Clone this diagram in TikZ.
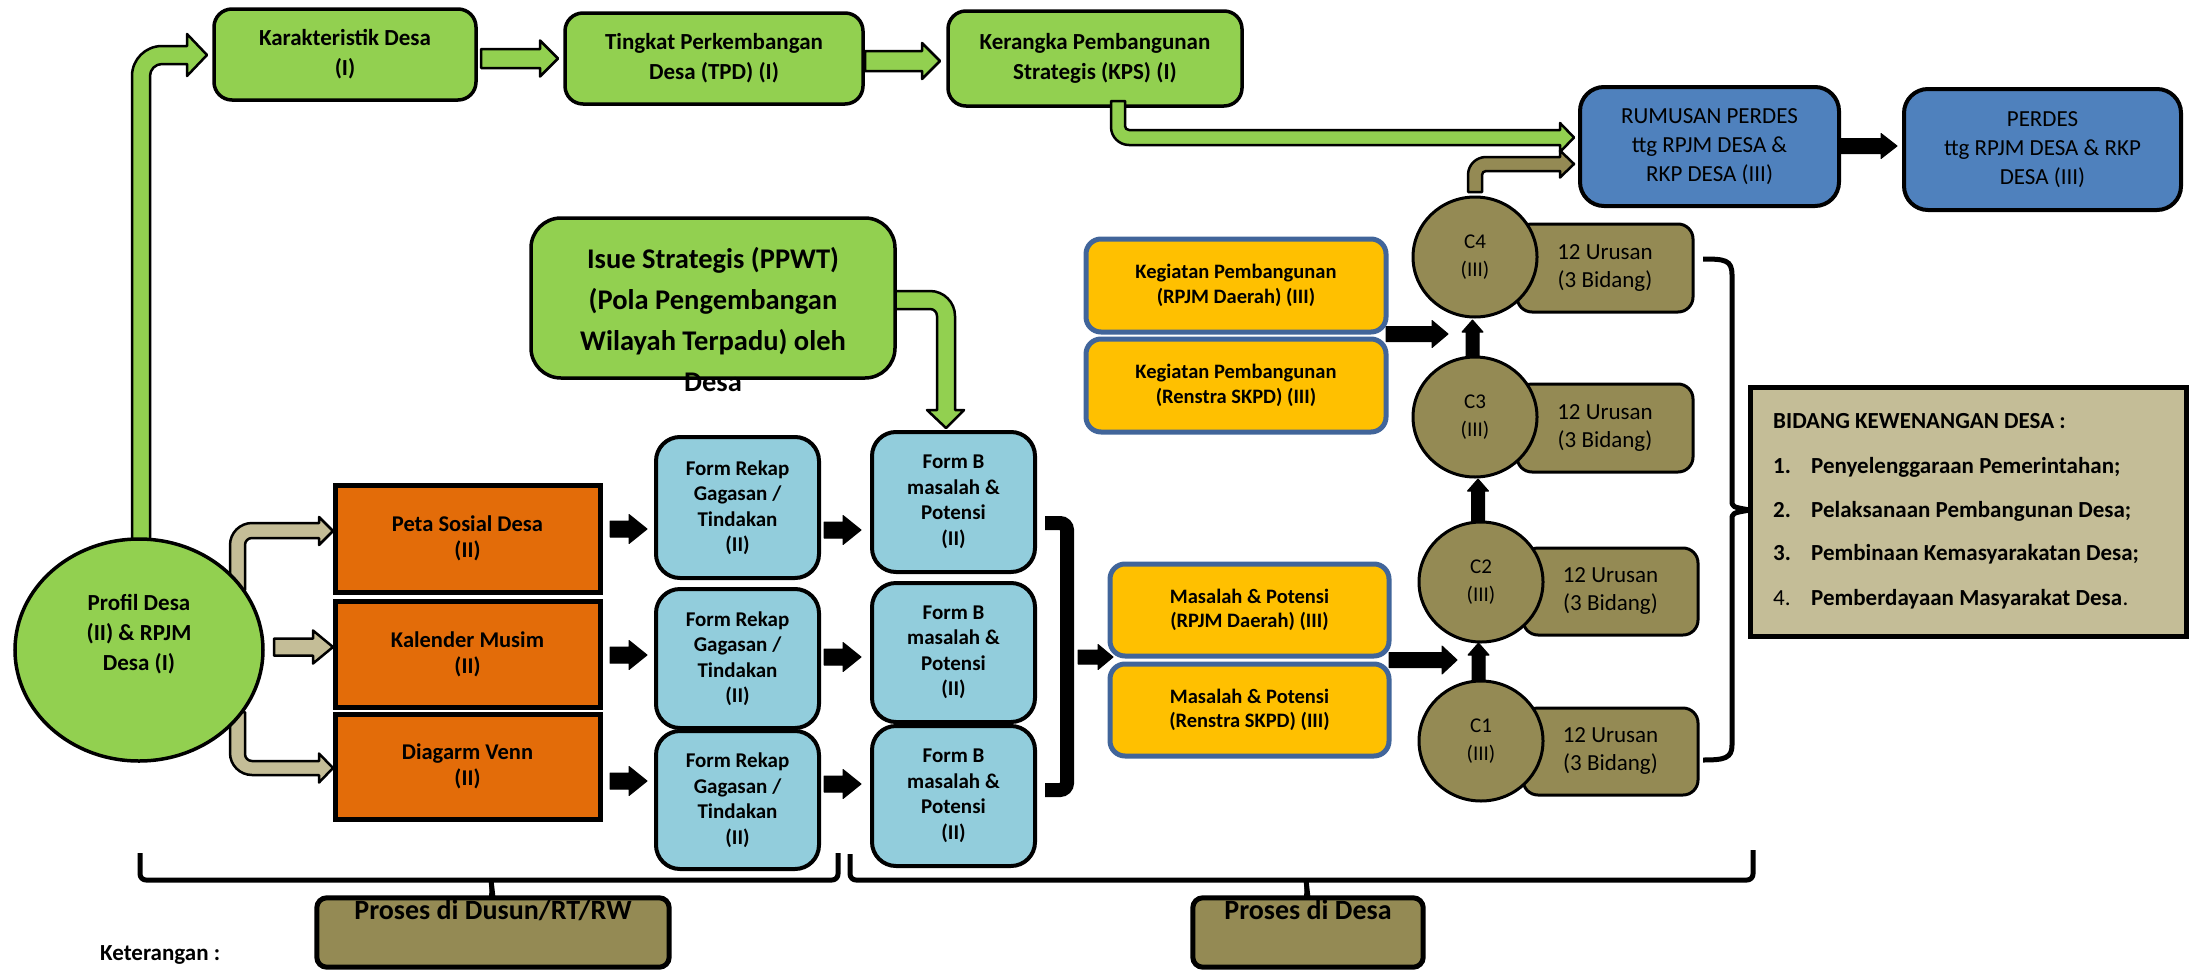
\documentclass[tikz,border=0pt]{standalone}
\usepackage{fontspec}
\setmainfont{Carlito}
\usetikzlibrary{shapes.geometric}
\definecolor{grn}{HTML}{92D050}
\definecolor{org}{HTML}{E36C09}
\definecolor{lblue}{HTML}{92CDDC}
\definecolor{gold}{HTML}{FFC000}
\definecolor{bblue}{HTML}{41659A}
\definecolor{blu}{HTML}{4F81BD}
\definecolor{olv}{HTML}{948A54}
\definecolor{tanc}{HTML}{C4BD97}
\newcommand\hblk[7]{%
 \path[#1] (#2,{#4-#5}) -- ({#3-#7},{#4-#5}) -- ({#3-#7},{#4-#6}) -- (#3,#4) -- ({#3-#7},{#4+#6}) -- ({#3-#7},{#4+#5}) -- (#2,{#4+#5}) -- cycle;}
\newcommand\vblk[7]{%
 \path[#1] ({#2-#5},#3) -- ({#2-#5},{#4+#7}) -- ({#2-#6},{#4+#7}) -- (#2,#4) -- ({#2+#6},{#4+#7}) -- ({#2+#5},{#4+#7}) -- ({#2+#5},#3) -- cycle;}
\begin{document}
\begin{tikzpicture}[x=1pt,y=-1pt,
  box/.style={draw=black, align=center, inner sep=0pt},
  gbox/.style={box, fill=grn, line width=3.5pt, rounded corners=18pt, font=\bfseries\fontsize{23}{30}\selectfont},
  bbox/.style={box, fill=blu, line width=4pt, rounded corners=24pt, font=\fontsize{23}{29}\selectfont},
  obox/.style={box, fill=org, line width=5pt, font=\bfseries\fontsize{22.5}{26}\selectfont},
  fbox/.style={box, fill=lblue, line width=4pt, rounded corners=24pt, font=\bfseries\fontsize{21}{25.5}\selectfont},
  ybox/.style={box, fill=gold, draw=bblue, line width=5pt, rounded corners=15pt, font=\bfseries\fontsize{20.5}{24.5}\selectfont},
  ubox/.style={box, fill=olv, line width=3pt, rounded corners=15pt, font=\fontsize{23}{28}\selectfont},
  cnode/.style={ellipse, draw=black, fill=olv, line width=3pt, inner sep=0pt, minimum width=124pt, minimum height=120pt, align=center, font=\fontsize{21}{28}\selectfont},
  lbl/.style={inner sep=0pt, align=center},
  blk/.style={fill=black, draw=black, line width=1pt, line join=round},
  garr/.style={fill=grn, draw=black, line width=2.5pt, line join=round},
  tarr/.style={fill=tanc, draw=black, line width=2.5pt, line join=round},
  oarr/.style={fill=olv, draw=black, line width=2.5pt, line join=round},
  brk/.style={draw=black, line width=5pt, line join=round}
]
\useasboundingbox (0,0) rectangle (2192,969);

% ---- bent arrows behind nodes
\path[garr] (132,545) -- (132,76) .. controls (132,59.4) and (145.4,46) .. (162,46) -- (187,46) -- (187,34) -- (207,55) -- (187,76) -- (187,64) -- (162,64) .. controls (155.4,64) and (150,69.4) .. (150,76) -- (150,545) -- cycle;
\path[tarr] (230,590) -- (230,545) .. controls (230,532.9) and (239.9,523) .. (252,523) -- (319,523) -- (319,517) -- (333,531) -- (319,545) -- (319,538) -- (252,538) .. controls (248.1,538) and (245,541.1) .. (245,545) -- (245,590) -- cycle;
\path[tarr] (230,712) -- (230,753) .. controls (230,765.1) and (239.9,775) .. (252,775) -- (319,775) -- (319,782.5) -- (333,768) -- (319,753.5) -- (319,761) -- (252,761) .. controls (248.1,761) and (245,757.9) .. (245,754) -- (245,712) -- cycle;
\hblk{tarr}{274}{333}{647}{8.5}{16.5}{20}
\path[garr] (880,291) -- (930,291) .. controls (943.8,291) and (955,302.2) .. (955,316) -- (955,410) -- (964,410) -- (946,428) -- (927,410) -- (937,410) -- (937,316) .. controls (937,312.1) and (933.9,309) .. (930,309) -- (880,309) -- cycle;

% ---- Profil
\node[ellipse, draw=black, fill=grn, line width=3.5pt, minimum width=248pt, minimum height=222pt, inner sep=0pt] (profil) at (139,650) {};
\node[lbl, font=\bfseries\fontsize{23}{30}\selectfont] (profilt) at (139,634) {Profil Desa\\(II) \& RPJM\\Desa (I)};

% ---- top green row
\node[gbox, minimum width=262pt, minimum height=91pt] (kar) at (345,54.5) {Karakteristik Desa\\(I)};
\node[gbox, minimum width=298pt, minimum height=91pt] (tpd) at (714,58.5) {Tingkat Perkembangan\\Desa (TPD) (I)};
\node[gbox, minimum width=294pt, minimum height=95pt] (kps) at (1095,58.5) {Kerangka Pembangunan\\Strategis (KPS) (I)};
\hblk{garr}{481}{558}{58.5}{9.5}{18}{18}
\hblk{garr}{865}{940}{61}{10}{18}{18}
\path[garr] (1111,101) -- (1111,127) .. controls (1111,136.9) and (1119.1,145) .. (1129,145) -- (1560,145) -- (1560,152) -- (1574,137.5) -- (1560,123) -- (1560,130) -- (1129,130) .. controls (1126.8,130) and (1125,128.2) .. (1125,126) -- (1125,101) -- cycle;
\path[oarr] (1468,192) -- (1468,175) .. controls (1468,165.1) and (1475.9,157) .. (1486,157) -- (1560,157) -- (1560,150.5) -- (1574,164) -- (1560,177.5) -- (1560,171) -- (1486,171) .. controls (1483.8,171) and (1482,172.8) .. (1482,175) -- (1482,192) -- cycle;

% ---- blue boxes
\node[bbox, minimum width=259pt, minimum height=119pt] (rum) at (1709.5,146.5) {RUMUSAN PERDES\\ttg RPJM DESA \&\\RKP DESA (III)};
\node[bbox, minimum width=277pt, minimum height=121pt] (per) at (2042.5,149.5) {PERDES\\ttg RPJM DESA \& RKP\\DESA (III)};
\hblk{blk}{1839}{1897}{146}{7.5}{12.5}{16}

% ---- Isue
\node[box, fill=grn, line width=3.5pt, rounded corners=30pt, minimum width=364pt, minimum height=160pt] (isue) at (713,298) {};
\node[lbl, font=\bfseries\fontsize{28.5}{41}\selectfont] (isuet) at (713,320) {Isue Strategis (PPWT)\\(Pola Pengembangan\\Wilayah Terpadu) oleh\\Desa};

% ---- orange
\node[obox, minimum width=265pt, minimum height=107pt] (peta) at (467.5,538.5) {Peta Sosial Desa\\(II)};
\node[obox, minimum width=265pt, minimum height=106pt] (kal) at (467.5,654) {Kalender Musim\\(II)};
\node[obox, minimum width=265pt, minimum height=105pt] (venn) at (467.5,766.5) {Diagarm Venn\\(II)};

% ---- forms
\node[fbox, minimum width=163pt, minimum height=141pt] (rek1) at (737.5,507.5) {Form Rekap\\Gagasan /\\Tindakan\\(II)};
\node[fbox, minimum width=163pt, minimum height=139pt] (rek2) at (737.5,658.5) {Form Rekap\\Gagasan /\\Tindakan\\(II)};
\node[fbox, minimum width=163pt, minimum height=138pt] (rek3) at (737.5,800) {Form Rekap\\Gagasan /\\Tindakan\\(II)};
\node[fbox, minimum width=163pt, minimum height=140pt] (fb1) at (953.5,502) {Form B\\masalah \&\\Potensi\\(II)};
\node[fbox, minimum width=163pt, minimum height=139pt] (fb2) at (953.5,652.5) {Form B\\masalah \&\\Potensi\\(II)};
\node[fbox, minimum width=163pt, minimum height=140pt] (fb3) at (953.5,796) {Form B\\masalah \&\\Potensi\\(II)};
\hblk{blk}{610}{647}{529}{8}{14.5}{18}
\hblk{blk}{610}{647}{655}{8}{14.5}{18}
\hblk{blk}{610}{647}{781}{8}{14.5}{18}
\hblk{blk}{824}{861}{530}{8}{14.5}{18}
\hblk{blk}{824}{861}{657}{8}{14.5}{18}
\hblk{blk}{824}{861}{784}{8}{14.5}{18}

% ---- bracket after Form B
\draw[line width=14pt, rounded corners=7pt] (1045,523) -- (1067,523) -- (1067,790) -- (1045,790);
\hblk{blk}{1078}{1113}{657}{7}{12.5}{15}

% ---- yellow boxes
\node[ybox, minimum width=300pt, minimum height=93pt] (keg1) at (1236,285.5) {Kegiatan Pembangunan\\(RPJM Daerah) (III)};
\node[ybox, minimum width=300pt, minimum height=93pt] (keg2) at (1236,385.5) {Kegiatan Pembangunan\\(Renstra SKPD) (III)};
\node[ybox, minimum width=279pt, minimum height=92pt] (mas1) at (1249.5,610) {Masalah \& Potensi\\(RPJM Daerah) (III)};
\node[ybox, minimum width=279pt, minimum height=92pt] (mas2) at (1249.5,710) {Masalah \& Potensi\\(Renstra SKPD) (III)};
\hblk{blk}{1386}{1448}{334}{7.5}{13.5}{16}
\hblk{blk}{1389}{1457}{660}{7.5}{14}{15}

% ---- urusan + circles
\node[ubox, minimum width=176pt, minimum height=88pt] (u4) at (1605,268) {12 Urusan\\(3 Bidang)};
\node[ubox, minimum width=176pt, minimum height=88pt] (u3) at (1605,428) {12 Urusan\\(3 Bidang)};
\node[ubox, minimum width=175pt, minimum height=87pt] (u2) at (1610.5,591.5) {12 Urusan\\(3 Bidang)};
\node[ubox, minimum width=175pt, minimum height=87pt] (u1) at (1610.5,751.5) {12 Urusan\\(3 Bidang)};
\node[cnode] (c4) at (1475,257) {C4\\(III)};
\node[cnode] (c3) at (1475,417) {C3\\(III)};
\node[cnode] (c2) at (1481,582) {C2\\(III)};
\node[cnode] (c1) at (1481,741) {C1\\(III)};
\vblk{blk}{1472.5}{357}{320}{6.5}{10.5}{12}
\vblk{blk}{1478}{522}{479}{6.5}{10.5}{12}
\vblk{blk}{1478.5}{681}{643}{6.5}{10.5}{12}

% ---- right bracket
\draw[brk] (1703,259) .. controls (1725,259) and (1732,260) .. (1732,275) -- (1732,500) .. controls (1732,507) .. (1750,510) .. controls (1732,513) .. (1732,520) -- (1732,745) .. controls (1732,758) and (1725,760) .. (1703,760);

% ---- Bidang box
\node[box, fill=tanc, line width=5pt, minimum width=436pt, minimum height=249pt] (bid) at (1968,511.5) {};
\begin{scope}[every node/.style={inner sep=0pt, anchor=base west, font=\bfseries\fontsize{23}{28}\selectfont}]
\node (bidh) at (1773,428) {BIDANG KEWENANGAN DESA :};
\node (n1) at (1773,473) {1.};
\node (t1) at (1811,473) {Penyelenggaraan Pemerintahan;};
\node (n2) at (1773,517) {2.};
\node (t2) at (1811,517) {Pelaksanaan Pembangunan Desa;};
\node (n3) at (1773,560) {3.};
\node (t3) at (1811,560) {Pembinaan Kemasyarakatan Desa;};
\node[font=\fontsize{23}{28}\selectfont] (n4) at (1773,605) {4.};
\node (t4) at (1811,605) {Pemberdayaan Masyarakat Desa};
\end{scope}
\node[inner sep=0pt, anchor=base west, font=\fontsize{23}{28}\selectfont] (t4p) at (t4.base east) {.};

% ---- bottom brackets and process boxes
\node[fill=olv, rounded corners=10pt, minimum width=352pt, minimum height=69pt, inner sep=0pt] (pdus) at (493,932.5) {};
\node[fill=olv, rounded corners=10pt, minimum width=230pt, minimum height=69pt, inner sep=0pt] (pdes) at (1308,932.5) {};
\node[inner sep=0pt, anchor=base, font=\bfseries\fontsize{28}{30}\selectfont] (pdust) at (493,919) {Proses di Dusun/RT/RW};
\node[inner sep=0pt, anchor=base, font=\bfseries\fontsize{28}{30}\selectfont] (pdest) at (1308,919) {Proses di Desa};
\draw[line width=5pt, rounded corners=10pt] (pdus.north west) rectangle (pdus.south east);
\draw[line width=5pt, rounded corners=10pt] (pdes.north west) rectangle (pdes.south east);
\draw[brk, rounded corners=6pt] (140,853) -- (140,880) -- (838,880) -- (838,853);
\draw[brk, rounded corners=6pt] (850,854) -- (850,880) -- (1753,880) -- (1753,850);
\fill (483,878) .. controls (490,880) .. (489,898) -- (493,898) .. controls (492,880) .. (499,878) -- cycle;
\fill (1298,878) .. controls (1305,880) .. (1304,898) -- (1308,898) .. controls (1307,880) .. (1314,878) -- cycle;
\draw[line width=5pt] (491,880) -- (pdus.north);
\draw[line width=5pt] (1306,880) -- (pdes.north);

\node[inner sep=0pt, anchor=base west, font=\bfseries\fontsize{23}{28}\selectfont] (ket) at (100,960) {Keterangan :};
\end{tikzpicture}
\end{document}
